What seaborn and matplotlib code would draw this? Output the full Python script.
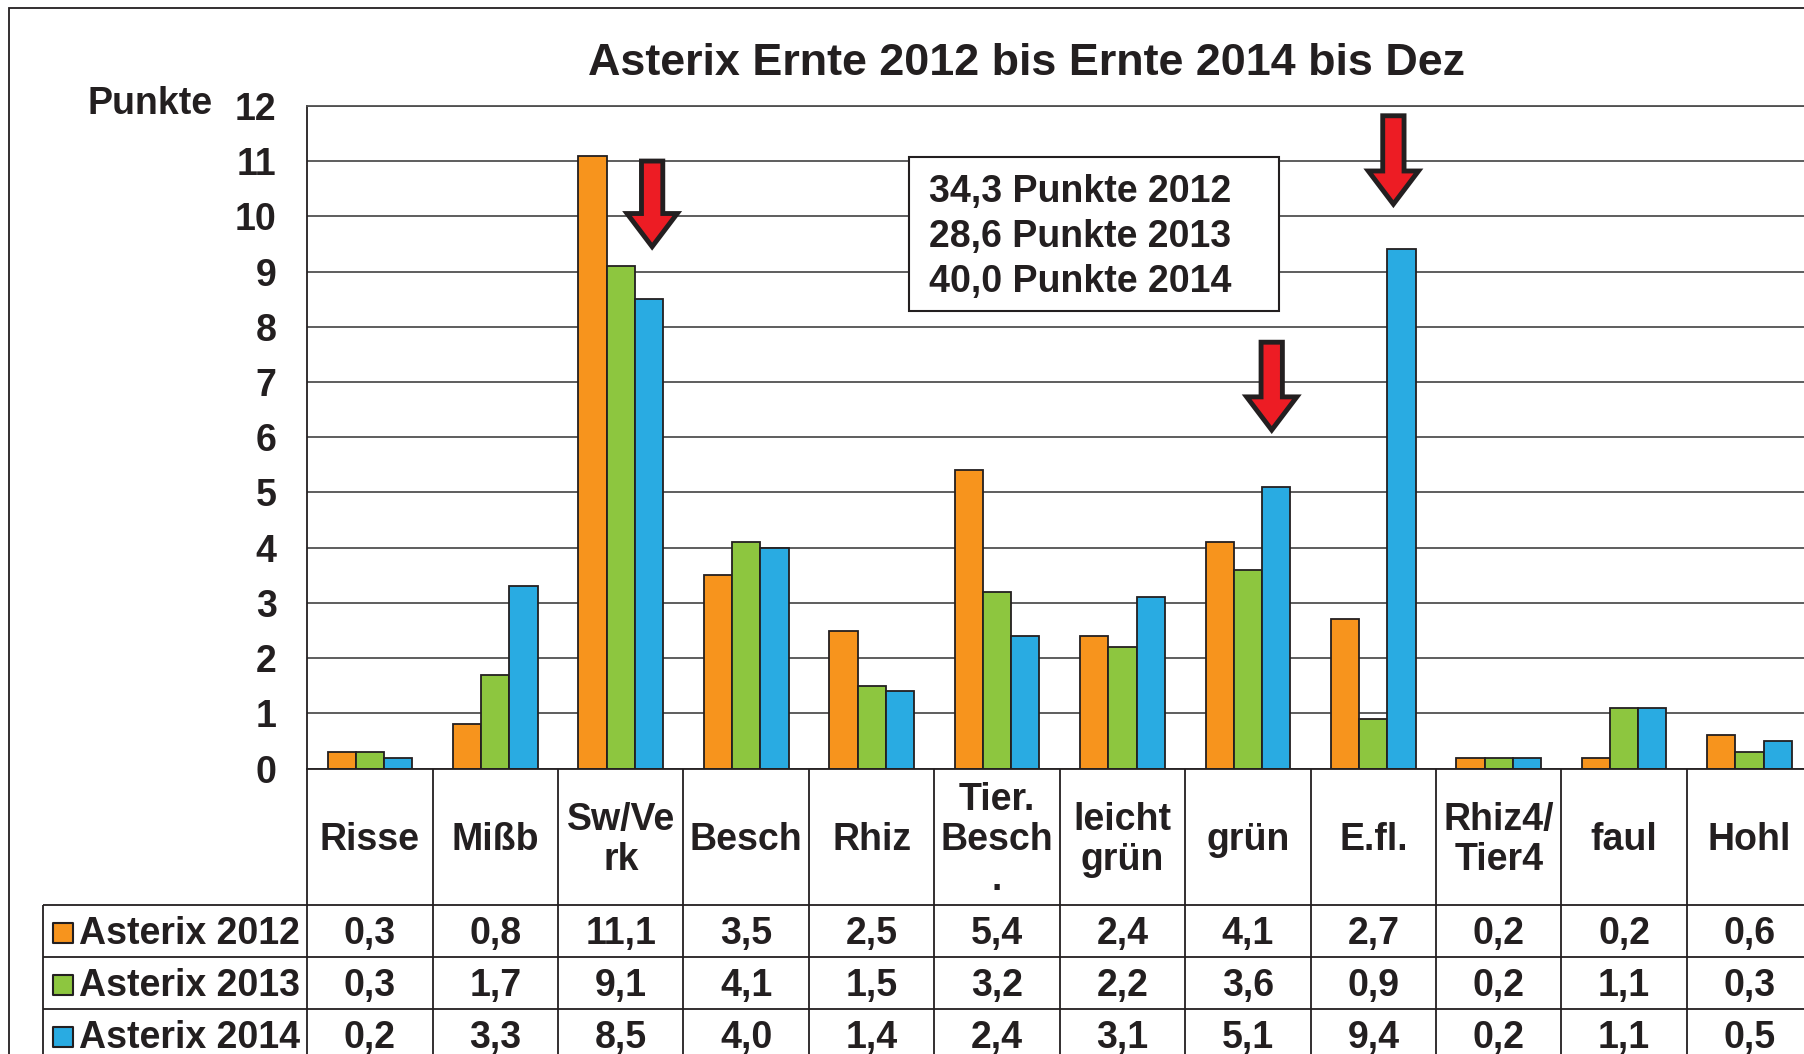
import matplotlib
matplotlib.use("Agg")
import matplotlib.pyplot as plt
import pandas as pd
import seaborn as sns
from matplotlib.patches import FancyArrow, Rectangle

# --- data ---
categories = ["Risse", "Mißb", "Sw/Verk", "Besch", "Rhiz", "Tier.Besch.",
              "leicht grün", "grün", "E.fl.", "Rhiz4/Tier4", "faul", "Hohl"]
header_labels = ["Risse", "Mißb", "Sw/Ve\nrk", "Besch", "Rhiz", "Tier.\nBesch\n.",
                 "leicht\ngrün", "grün", "E.fl.", "Rhiz4/\nTier4", "faul", "Hohl"]
series = ["Asterix 2012", "Asterix 2013", "Asterix 2014"]
values_2012 = [0.3, 0.8, 11.1, 3.5, 2.5, 5.4, 2.4, 4.1, 2.7, 0.2, 0.2, 0.6]
values_2013 = [0.3, 1.7, 9.1, 4.1, 1.5, 3.2, 2.2, 3.6, 0.9, 0.2, 1.1, 0.3]
values_2014 = [0.2, 3.3, 8.5, 4.0, 1.4, 2.4, 3.1, 5.1, 9.4, 0.2, 1.1, 0.5]
totals = [34.3, 28.6, 40.0]
total_years = ["2012", "2013", "2014"]
arrow_targets = ["Sw/Verk", "grün", "E.fl."]

colors = ["#F7941D", "#8DC63F", "#29ABE2"]
DARK = "#231F20"
GRID = "#505050"
FS = 27


def fmt(v: float) -> str:
    return f"{v:.1f}".replace(".", ",")


def build_frame() -> pd.DataFrame:
    rows = []
    for name, vals in zip(series, [values_2012, values_2013, values_2014]):
        for cat, v in zip(categories, vals):
            rows.append({"Kategorie": cat, "Serie": name, "Punkte": v})
    return pd.DataFrame(rows)


def main() -> None:
    sns.set_style("white")
    plt.rcParams["font.family"] = ["Liberation Sans", "DejaVu Sans"]
    plt.rcParams["font.weight"] = "bold"

    df = build_frame()
    fig = plt.figure(figsize=(18.04, 10.54), dpi=100)

    # outer frame of the picture (right/bottom edges are cut off)
    fig.add_artist(Rectangle((0.005, -0.1), 1.2, 1.0924, transform=fig.transFigure,
                             fill=False, edgecolor=DARK, linewidth=1.3))

    ax = fig.add_axes([0.1703, 0.2708, 0.8343, 0.6288])
    sns.barplot(data=df, x="Kategorie", y="Punkte", hue="Serie", order=categories,
                hue_order=series, palette=colors, width=0.675, edgecolor=DARK,
                linewidth=1.3, errorbar=None, legend=False, saturation=1, ax=ax)

    ax.set_xlim(-0.5, 11.5)
    ax.set_ylim(0, 12)
    ax.set_yticks(range(13))
    ax.set_xticks([])
    ax.set_xlabel("")
    ax.set_ylabel("")
    ax.set_axisbelow(True)
    ax.yaxis.grid(True, color=GRID, linewidth=1.3)
    ax.xaxis.grid(False)
    for side in ["left", "bottom", "top"]:
        ax.spines[side].set_color(DARK)
        ax.spines[side].set_linewidth(1.3)
    ax.spines["top"].set_color(GRID)
    ax.tick_params(axis="y", direction="out", length=10, width=1.3, color=GRID,
                   labelsize=FS, pad=12, labelcolor=DARK)

    fig.text(0.569, 0.9395, "Asterix Ernte 2012 bis Ernte 2014 bis Dez", ha="center",
             va="center", fontsize=32.3, fontweight="bold", color=DARK)
    fig.text(0.1181, 0.9009, "Punkte", ha="right", va="center", fontsize=FS,
             fontweight="bold", color=DARK)

    # red arrows pointing at the striking bars
    arrow_layout = [(0.25, 11.0, 9.45), (0.19, 7.72, 6.13), (0.16, 11.82, 10.22)]
    for target, (dx, top, tip) in zip(arrow_targets, arrow_layout):
        x = categories.index(target) + dx
        ax.add_patch(FancyArrow(x, top, 0, tip - top, width=0.17, head_width=0.4,
                                head_length=0.6, length_includes_head=True,
                                facecolor="#ED1C24", edgecolor=DARK, linewidth=3.5,
                                joinstyle="miter", zorder=5))

    # totals box
    ax.add_patch(Rectangle((4.30, 8.29), 2.95, 2.79, facecolor="white", edgecolor=DARK,
                           linewidth=1.5, zorder=4))
    for i, (tot, yr) in enumerate(zip(totals, total_years)):
        ax.text(4.46, 10.44 - i * 0.815, f"{fmt(tot)} Punkte {yr}", ha="left",
                va="center", fontsize=FS, fontweight="bold", color=DARK, zorder=6)

    # data table below the axis
    header_h, row_h = 136.9, 51.8
    tab = fig.add_axes([0.1703, -0.00645, 0.8343, 0.27723])
    tab.set_xlim(-0.5, 11.5)
    bottom = header_h + 3 * row_h
    tab.set_ylim(bottom, 0)
    tab.axis("off")
    legend_left = -2.61
    shift = 3.0

    tab.vlines([k - 0.5 for k in range(13)], 0, bottom, colors=DARK, linewidth=1.3,
               clip_on=False)
    tab.vlines([legend_left], header_h, bottom, colors=DARK, linewidth=1.3, clip_on=False)
    tab.hlines([header_h + i * row_h for i in range(3)], legend_left, 11.5, colors=DARK,
               linewidth=1.3, clip_on=False)

    for i, lab in enumerate(header_labels):
        tab.text(i, header_h / 2 + shift, lab, ha="center", va="center", fontsize=FS,
                 fontweight="bold", color=DARK, linespacing=1.13, clip_on=False)

    for r, (name, vals, col) in enumerate(zip(series, [values_2012, values_2013, values_2014], colors)):
        yc = header_h + (r + 0.5) * row_h + shift
        tab.scatter([legend_left + 0.16], [yc - 1], marker="s", s=190, color=col,
                    edgecolor=DARK, linewidth=1.5, clip_on=False, zorder=3)
        tab.text(legend_left + 0.29, yc, name, ha="left", va="center", fontsize=FS,
                 fontweight="bold", color=DARK, clip_on=False)
        for i, v in enumerate(vals):
            tab.text(i, yc, fmt(v), ha="center", va="center", fontsize=FS,
                     fontweight="bold", color=DARK, clip_on=False)

    fig.savefig("out.png", dpi=100)
    plt.close(fig)


if __name__ == "__main__":
    main()
